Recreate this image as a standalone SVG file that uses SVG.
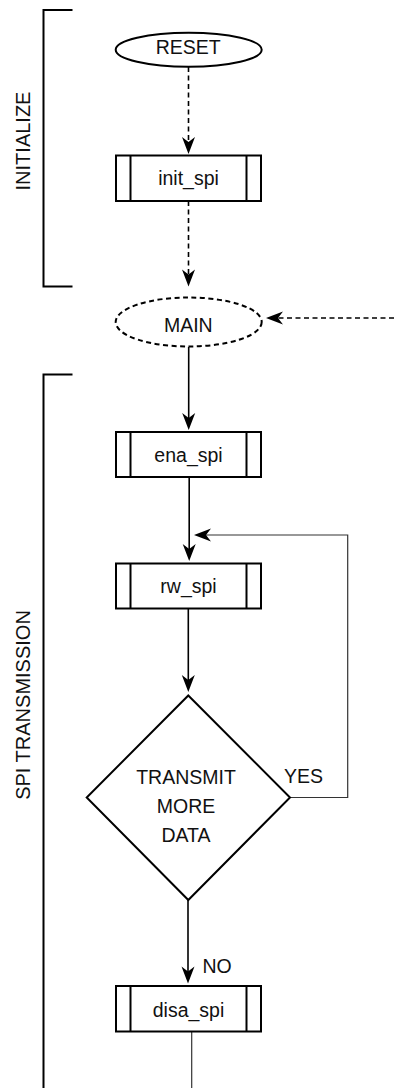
<svg xmlns="http://www.w3.org/2000/svg" width="394" height="1088" viewBox="0 0 394 1088">
<style>
.shape{fill:#fff;stroke:#000;stroke-width:2}
.inner{stroke:#000;stroke-width:2;fill:none}
.lbl{font-family:"Liberation Sans",Arial,Helvetica,sans-serif;font-size:19.5px;fill:#111;text-anchor:middle}
.side{font-family:"Liberation Sans",Arial,Helvetica,sans-serif;font-size:20px;fill:#111;text-anchor:middle}
.con{fill:none;stroke:#000;stroke-width:1.6}
.dash{stroke-dasharray:5 3.5}
.thin{fill:none;stroke:#333;stroke-width:1.2}
.brk{fill:none;stroke:#000;stroke-width:2}
</style>
<defs>
<marker id="arr" markerUnits="userSpaceOnUse" markerWidth="26" markerHeight="18" viewBox="-13 -9 26 18" refX="0" refY="0" orient="auto" overflow="visible">
<path d="M5,0 L-12,-6.5 L-7,0 L-12,6.5 Z" fill="#000" stroke="none"/>
</marker>
</defs>

<g id="bracket-initialize">
<path class="brk" d="M72.5,10 H43.5 V286.5 H72.5"/>
<text class="side" transform="translate(30,141) rotate(-90)">INITIALIZE</text>
</g>
<g id="bracket-spi">
<path class="brk" d="M72.5,374.5 H43.5 V1090"/>
<text class="side" transform="translate(30,705) rotate(-90)">SPI TRANSMISSION</text>
</g>

<g id="connectors">
<path class="con dash" d="M188.5,67 V149" marker-end="url(#arr)"/>
<path class="con dash" d="M188.5,201 V281.5" marker-end="url(#arr)"/>
<path class="con dash" d="M394,318 H271" marker-end="url(#arr)"/>
<path class="con" d="M188.7,347 V425" marker-end="url(#arr)"/>
<path class="con" d="M189.2,477 V556" marker-end="url(#arr)"/>
<path class="con" d="M188.3,608 V687" marker-end="url(#arr)"/>
<path class="con" d="M188,900 V978.5" marker-end="url(#arr)"/>
<path class="thin" d="M290,797.5 H347.7 V535 H199" marker-end="url(#arr)"/>
<path class="thin" d="M191.7,1032 V1090"/>
<text class="lbl" x="303.5" y="783">YES</text>
<text class="lbl" x="217" y="972.5">NO</text>
</g>

<g id="reset">
<ellipse class="shape" cx="188.7" cy="49.7" rx="73" ry="17"/>
<text class="lbl" x="188.2" y="54.3">RESET</text>
</g>

<g id="init_spi">
<rect class="shape" x="116" y="155.5" width="145" height="45.5"/>
<path class="inner" d="M130.5,155.5 V201 M246.5,155.5 V201"/>
<text class="lbl" x="188.5" y="184.5">init_spi</text>
</g>

<g id="main">
<ellipse class="shape" cx="188.7" cy="322" rx="73" ry="24.5" stroke-dasharray="5 3.5"/>
<text class="lbl" x="188.3" y="331.5">MAIN</text>
</g>

<g id="ena_spi">
<rect class="shape" x="116" y="432" width="145" height="45"/>
<path class="inner" d="M130.5,432 V477 M246.5,432 V477"/>
<text class="lbl" x="188.5" y="461.5">ena_spi</text>
</g>

<g id="rw_spi">
<rect class="shape" x="116" y="563.5" width="145" height="45"/>
<path class="inner" d="M130.5,563.5 V608.5 M246.5,563.5 V608.5"/>
<text class="lbl" x="188.5" y="592.5">rw_spi</text>
</g>

<g id="decision">
<path class="shape" d="M188.3,695.5 L290,797.5 L188.3,900 L86.7,797.5 Z"/>
<text class="lbl" x="186" y="784.3">TRANSMIT</text>
<text class="lbl" x="186" y="813.2">MORE</text>
<text class="lbl" x="186" y="841.8">DATA</text>
</g>

<g id="disa_spi">
<rect class="shape" x="116" y="986" width="145" height="45.5"/>
<path class="inner" d="M130.5,986 V1031.5 M246.5,986 V1031.5"/>
<text class="lbl" x="188.5" y="1016.5">disa_spi</text>
</g>
</svg>
